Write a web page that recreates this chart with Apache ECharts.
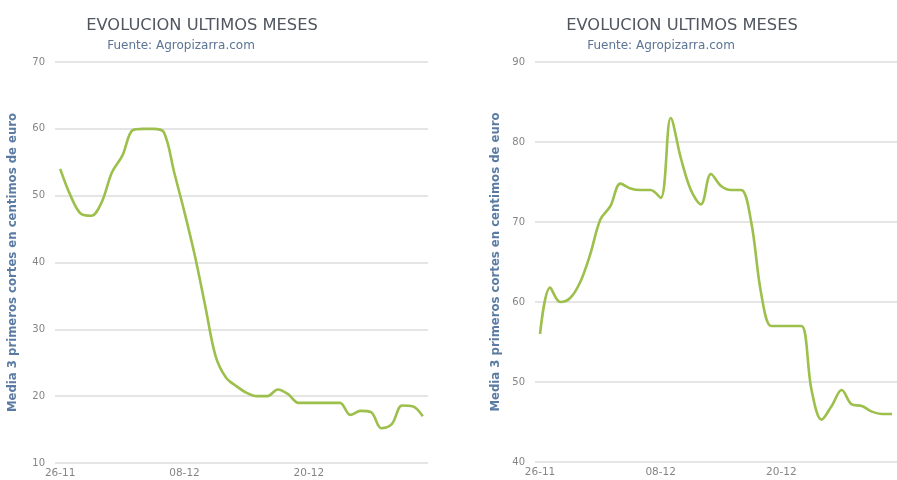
<!DOCTYPE html>
<html><head><meta charset="utf-8">
<script src="https://cdn.jsdelivr.net/npm/echarts@6/dist/echarts.min.js"></script>
<style>html,body{margin:0;padding:0;background:#fff}#c{width:897px;height:480px}</style>
</head><body><div id="c"></div>
<script>
const categories = ["26-11","27-11","28-11","29-11","30-11","01-12","02-12","03-12","04-12","05-12","06-12","07-12","08-12","09-12","10-12","11-12","12-12","13-12","14-12","15-12","16-12","17-12","18-12","19-12","20-12","21-12","22-12","23-12","24-12","25-12","26-12","27-12","28-12","29-12","30-12","31-12"];
const leftValues = [54,50,47.3,47,49,53.5,56,59.8,60,60,59.5,53.5,47.5,41,33.5,26,22.8,21.5,20.5,20,20,21,20.3,19,19,19,19,19,17.2,17.8,17.6,15.2,15.8,18.6,18.5,17];
const rightValues = [56,61.8,60,60.5,62.5,66,70.3,72,74.8,74.2,74,74,73,83,78,74,72.2,76,74.5,74,74,70,61,57,57,57,57,49,45.3,47,49,47.2,47,46.3,46,46];
const titleText = "EVOLUCION ULTIMOS MESES";
const subtitleText = "Fuente: Agropizarra.com";
const yName = "Media 3 primeros cortes en centimos de euro";
const leftTicks = {min:10, max:70, interval:10};
const rightTicks = {min:40, max:90, interval:10};

const chart = echarts.init(document.getElementById('c'));
const lineColor = '#9dbf4b';
const gridColor = '#dcdcdc';
const labelColor = '#858585';
const fontFam = 'DejaVu Sans, sans-serif';
function xAxis(gi){return {type:'category',gridIndex:gi,data:categories,boundaryGap:true,
  axisLine:{show:false},axisTick:{show:false},
  axisLabel:{interval:11,color:labelColor,fontSize:10.5,margin:5,fontFamily:fontFam},splitLine:{show:false}};}
function yAxis(gi,t,gap){return {type:'value',gridIndex:gi,min:t.min,max:t.max,interval:t.interval,
  name:yName,nameLocation:'middle',nameGap:gap,nameRotate:90,
  nameTextStyle:{color:'#5b7ba3',fontSize:11.7,fontWeight:'bold',fontFamily:fontFam},
  axisLine:{show:false},axisTick:{show:false},
  axisLabel:{color:labelColor,fontSize:10,margin:10,fontFamily:fontFam},
  splitLine:{lineStyle:{color:gridColor,width:1.6}}};}
chart.setOption({
  animation:false,
  title:[
    {text:titleText,left:197,top:13,textAlign:'center',textStyle:{color:'#50565f',fontSize:16.3,fontWeight:'normal',fontFamily:fontFam}},
    {text:subtitleText,left:176,top:35,textAlign:'center',textStyle:{color:'#5a7494',fontSize:12,fontWeight:'normal',fontFamily:fontFam}},
    {text:titleText,left:677,top:13,textAlign:'center',textStyle:{color:'#50565f',fontSize:16.3,fontWeight:'normal',fontFamily:fontFam}},
    {text:subtitleText,left:656,top:35,textAlign:'center',textStyle:{color:'#5a7494',fontSize:12,fontWeight:'normal',fontFamily:fontFam}}
  ],
  grid:[
    {left:55,top:62,width:373,height:401},
    {left:535,top:62,width:373,height:400}
  ],
  xAxis:[xAxis(0),xAxis(1)],
  yAxis:[yAxis(0,leftTicks,36),yAxis(1,rightTicks,33)],
  series:[
    {type:'line',xAxisIndex:0,yAxisIndex:0,data:leftValues,smooth:0.35,showSymbol:false,lineStyle:{color:lineColor,width:2.6}},
    {type:'line',xAxisIndex:1,yAxisIndex:1,data:rightValues,smooth:0.35,showSymbol:false,lineStyle:{color:lineColor,width:2.6}}
  ]
});
</script></body></html>
